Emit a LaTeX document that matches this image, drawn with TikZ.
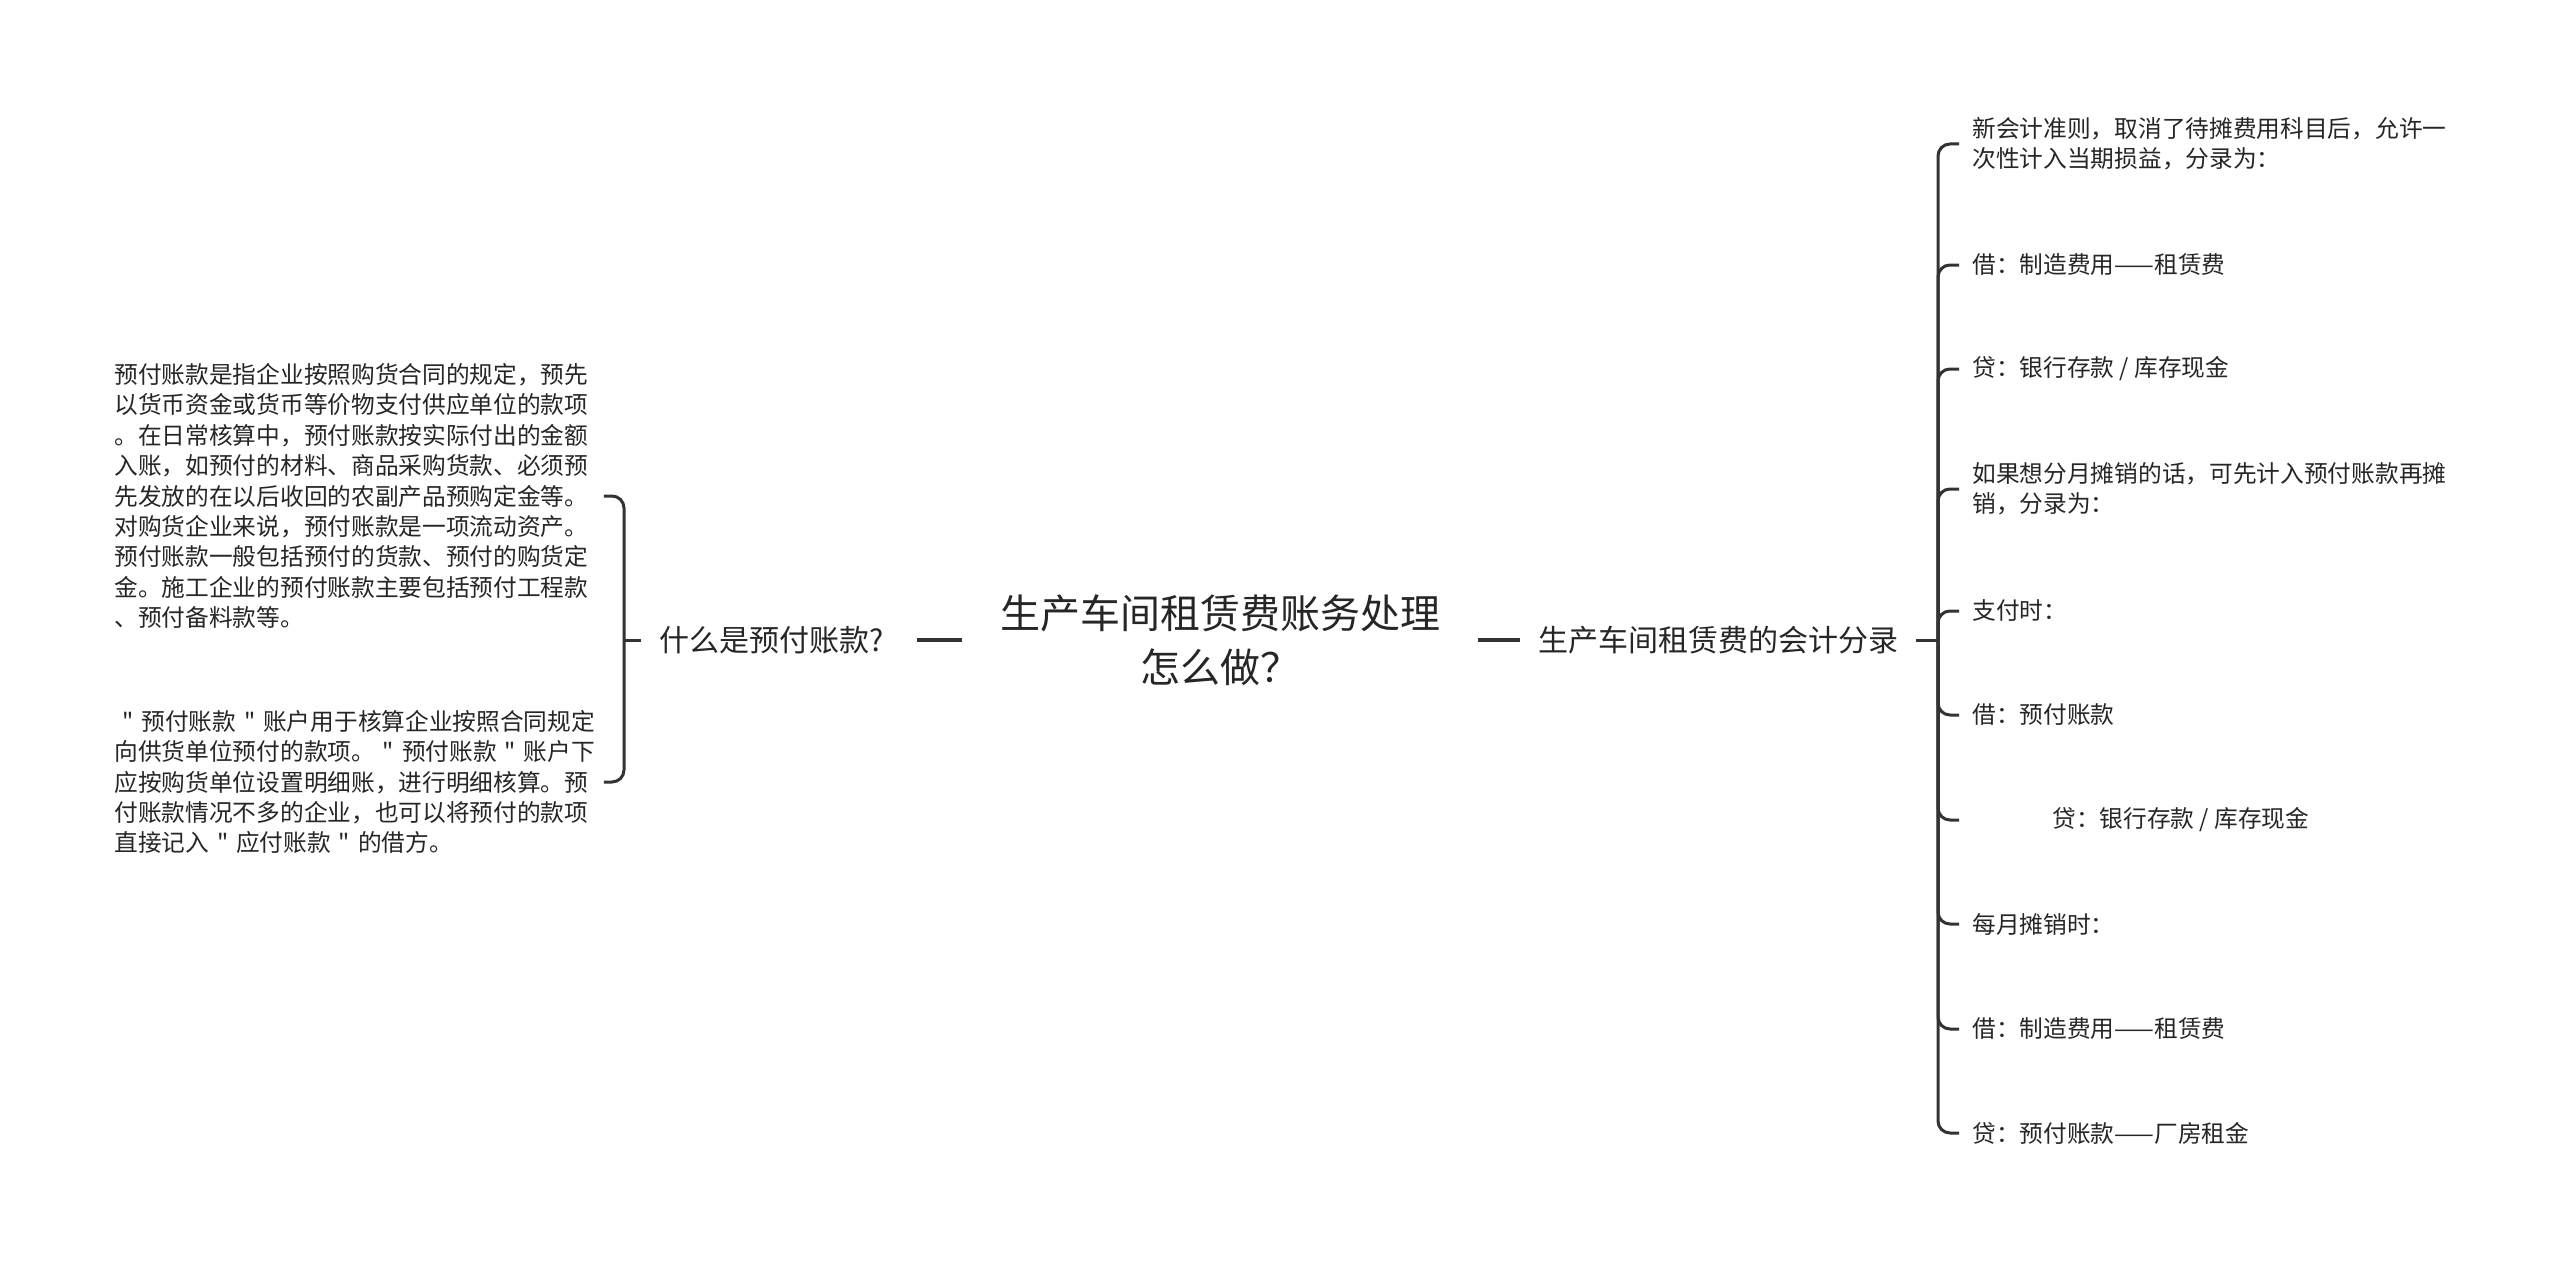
\documentclass[tikz,border=0pt]{standalone}
\usepackage{fontspec}
\newfontfamily\cjk{Noto Sans CJK SC}

\begin{document}
\begin{tikzpicture}[x=0.5pt,y=-0.5pt,
    leaf/.style={inner xsep=6.5pt, inner ysep=0pt, text=black!85, align=left,
      font=\cjk\fontsize{11.85pt}{15.2pt}\selectfont},
    topic/.style={inner xsep=9pt, text=black!85, font=\cjk\fontsize{15pt}{18pt}\selectfont},
    branch/.style={color=black!80, line width=1.5pt, rounded corners=6pt}]
    \useasboundingbox[fill=white] (0,0) rectangle (2560,1263);
    \node[inner xsep=19pt, text=black!85, align=center, font=\cjk\fontsize{20pt}{27pt}\selectfont] (root) at (1220,640) {生产车间租赁费账务处理\\怎么做？};
    \node[topic] (lchild) at (772,640) {什么是预付账款?};
    \node[topic] (rchild) at (1718,640) {生产车间租赁费的会计分录};
    \coordinate (ljoint) at (624,640);
    \coordinate (rjoint) at (1938,640);
    \node[leaf, anchor=west, text width=238pt] (lleafa) at (101,496) {预付账款是指企业按照购货合同的规定，预先\\以货币资金或货币等价物支付供应单位的款项\\。在日常核算中，预付账款按实际付出的金额\\入账，如预付的材料、商品采购货款、必须预\\先发放的在以后收回的农副产品预购定金等。\\对购货企业来说，预付账款是一项流动资产。\\预付账款一般包括预付的货款、预付的购货定\\金。施工企业的预付账款主要包括预付工程款\\、预付备料款等。};
    \node[leaf, anchor=west, text width=238pt] (lleafb) at (101,782) {\mbox{\ " 预付账款 " 账户用于核算企业按照合同规定}\\\mbox{向供货单位预付的款项。 " 预付账款 " 账户下}\\应按购货单位设置明细账，进行明细核算。预\\付账款情况不多的企业，也可以将预付的款项\\\mbox{直接记入 " 应付账款 " 的借方。}};
    \node[leaf, anchor=west] (rleafa) at (1959,144) {新会计准则，取消了待摊费用科目后，允许一\\次性计入当期损益，分录为：};
    \node[leaf, anchor=west] (rleafb) at (1959,265) {借：制造费用——租赁费};
    \node[leaf, anchor=west] (rleafc) at (1959,369) {贷：银行存款 / 库存现金};
    \node[leaf, anchor=west] (rleafd) at (1959,489) {如果想分月摊销的话，可先计入预付账款再摊\\销，分录为：};
    \node[leaf, anchor=west] (rleafe) at (1959,611) {支付时：};
    \node[leaf, anchor=west] (rleaff) at (1959,715) {借：预付账款};
    \node[leaf, anchor=west] (rleafg) at (1959,820) {\hspace{40pt}贷：银行存款 / 库存现金};
    \node[leaf, anchor=west] (rleafh) at (1959,924) {每月摊销时：};
    \node[leaf, anchor=west] (rleafi) at (1959,1029) {借：制造费用——租赁费};
    \node[leaf, anchor=west] (rleafj) at (1959,1133) {贷：预付账款——厂房租金};
    \draw[color=black!80, line width=2pt, shorten <=7pt] (lchild.east) -- (root.west);
    \draw[color=black!80, line width=2pt] (root.east) -- (rchild.west);
    \draw[branch] (lchild.west) -- (ljoint);
    \draw[branch] (rchild.east) -- (rjoint);
    \draw[branch] (ljoint) |- (lleafa.east);
    \draw[branch] (ljoint) |- (lleafb.east);
    \draw[branch] (rjoint) |- (rleafa.west);
    \draw[branch] (rjoint) |- (rleafb.west);
    \draw[branch] (rjoint) |- (rleafc.west);
    \draw[branch] (rjoint) |- (rleafd.west);
    \draw[branch] (rjoint) |- (rleafe.west);
    \draw[branch] (rjoint) |- (rleaff.west);
    \draw[branch] (rjoint) |- (rleafg.west);
    \draw[branch] (rjoint) |- (rleafh.west);
    \draw[branch] (rjoint) |- (rleafi.west);
    \draw[branch] (rjoint) |- (rleafj.west);
\end{tikzpicture}
\end{document}
